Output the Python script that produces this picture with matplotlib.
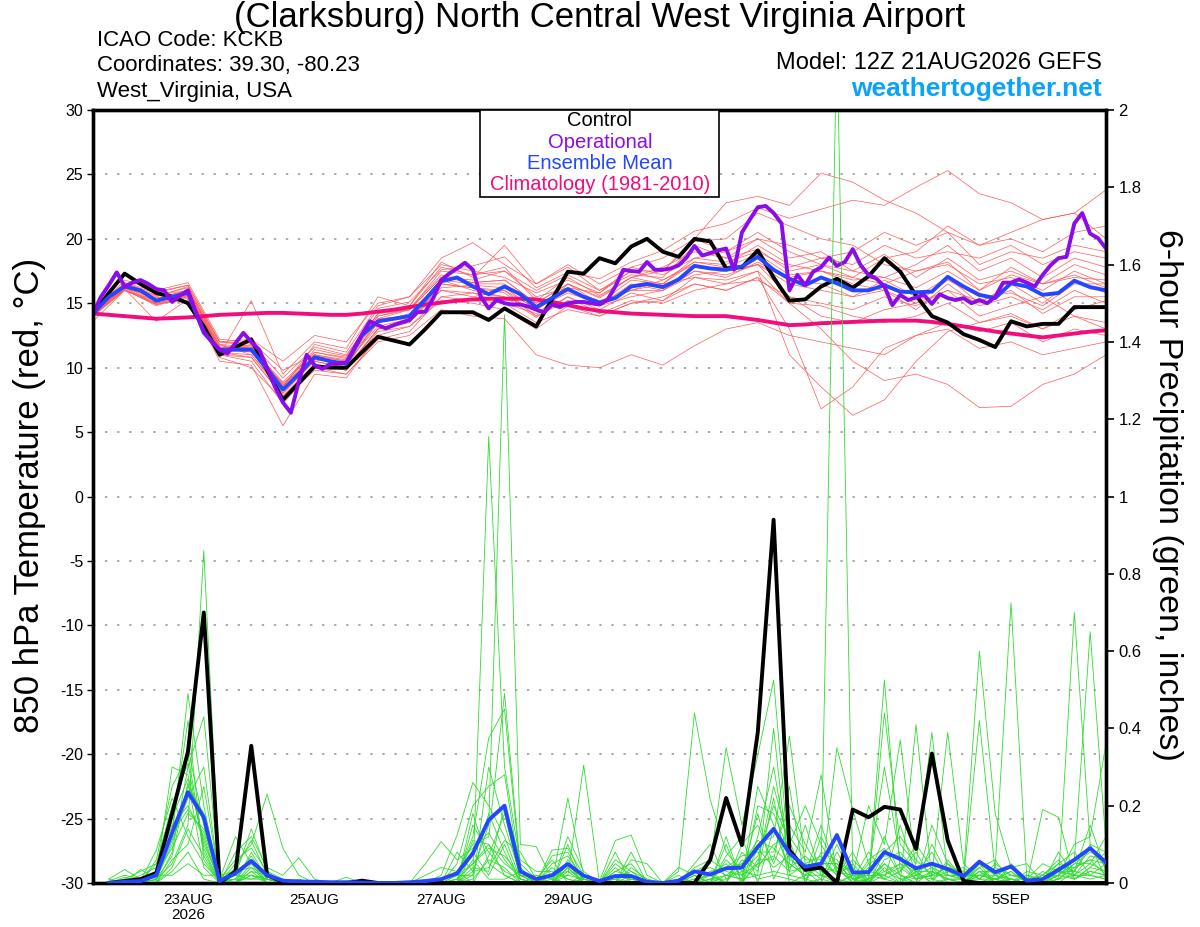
import numpy as np
import matplotlib
matplotlib.use("Agg")
import matplotlib.pyplot as plt
from matplotlib.patches import Rectangle

plt.rcParams['font.family'] = ['Liberation Sans', 'DejaVu Sans']

# ---------------- data ----------------
run_start = np.datetime64('2026-08-21T12:00')

tick_dates = ['2026-08-23', '2026-08-25', '2026-08-27', '2026-08-29',
              '2026-09-01', '2026-09-03', '2026-09-05']
tick_labels = ['23AUG\n2026', '25AUG', '27AUG', '29AUG', '1SEP', '3SEP', '5SEP']

temp_ticks = [-30, -25, -20, -15, -10, -5, 0, 5, 10, 15, 20, 25, 30]
precip_ticks = [0, 0.2, 0.4, 0.6, 0.8, 1, 1.2, 1.4, 1.6, 1.8, 2]
precip_tick_labels = ['0', '0.2', '0.4', '0.6', '0.8', '1', '1.2', '1.4', '1.6', '1.8', '2']

# 6-hourly control 850 hPa temperature (C)
control_temp = [14.2, 15.8, 17.3, 16.5, 15.8, 15.5, 15.0, 13.2, 11.0, 11.6, 12.2, 9.8, 7.5,
                8.8, 10.1, 10.0, 10.0, 11.2, 12.4, 12.1, 11.8, 13.0, 14.3, 14.3, 14.3, 13.7,
                14.6, 13.9, 13.2, 15.3, 17.45, 17.3, 18.5, 18.1, 19.4, 20.0, 19.0, 18.6, 20.0,
                19.8, 17.7, 17.8, 19.1, 17.0, 15.2, 15.3, 16.3, 16.9, 16.2, 17.1, 18.5, 17.45,
                15.6, 14.0, 13.5, 12.6, 12.15, 11.6, 13.6, 13.2, 13.4, 13.4, 14.7, 14.7, 14.7]

# 6-hourly ensemble mean temperature
mean_temp = [14.2, 15.5, 16.3, 16.0, 15.2, 15.5, 15.8, 12.7, 11.4, 11.4, 11.4, 9.9, 8.3,
             9.5, 10.8, 10.5, 10.3, 12.5, 13.6, 13.8, 14.0, 15.3, 16.7, 17.0, 16.3, 15.7,
             16.3, 15.7, 14.7, 15.4, 16.1, 15.5, 15.05, 15.4, 16.3, 16.5, 16.25, 16.85, 17.9,
             17.7, 17.6, 17.85, 18.6, 17.6, 16.9, 16.4, 17.0, 16.55, 16.0, 16.0, 16.4, 15.9,
             15.85, 15.9, 17.05, 16.3, 15.65, 15.4, 16.55, 16.3, 15.65, 15.8, 16.75, 16.25, 16.0]

# 6-hourly climatology (1981-2010)
clim_temp = [14.2, 14.1, 14.0, 13.9, 13.8, 13.85, 13.9, 14.0, 14.1, 14.15, 14.2, 14.25, 14.25,
             14.2, 14.15, 14.1, 14.1, 14.2, 14.35, 14.5, 14.7, 14.9, 15.05, 15.2, 15.3, 15.35,
             15.35, 15.35, 15.3, 15.1, 14.85, 14.6, 14.4, 14.3, 14.2, 14.15, 14.1, 14.05, 14.0,
             14.0, 14.0, 13.85, 13.7, 13.5, 13.3, 13.35, 13.45, 13.5, 13.55, 13.6, 13.65, 13.65,
             13.65, 13.55, 13.4, 13.2, 13.0, 12.8, 12.65, 12.5, 12.35, 12.5, 12.65, 12.8, 12.9]

# 3-hourly operational temperature
oper_temp = [14.2, 15.5, 16.4, 17.4, 16.3, 16.6, 16.8, 16.5, 16.1, 16.0, 15.1, 15.6, 16.0,
             14.3, 12.8, 12.0, 11.4, 11.1, 11.9, 12.7, 12.0, 11.4, 10.0, 8.5, 7.3, 6.5, 8.9,
             11.0, 10.2, 9.9, 10.3, 10.3, 10.4, 11.5, 12.6, 13.6, 13.3, 13.05, 13.3, 13.5, 13.7,
             14.3, 14.35, 15.4, 16.8, 17.3, 17.7, 18.15, 17.6, 15.5, 14.6, 15.25, 15.0, 14.9,
             14.9, 14.75, 14.5, 14.3, 14.9, 14.7, 15.0, 15.1, 15.1, 15.0, 14.9, 15.25, 16.3,
             17.6, 17.5, 17.45, 18.2, 17.6, 17.6, 17.7, 17.95, 18.55, 19.45, 18.7, 18.9, 19.1,
             19.25, 17.6, 20.5, 21.5, 22.45, 22.55, 22.0, 21.2, 16.0, 17.2, 16.4, 17.45, 17.8,
             18.55, 17.9, 18.2, 19.2, 17.95, 17.2, 16.9, 16.3, 14.85, 15.65, 15.25, 15.45, 15.65,
             14.95, 15.7, 15.4, 15.25, 15.4, 15.0, 15.25, 15.0, 15.5, 16.6, 16.6, 16.85, 16.6,
             16.3, 17.2, 17.95, 18.5, 18.6, 21.2, 22.0, 20.4, 20.05, 19.25]

# 12-hourly ensemble member temperatures
member_temp = [
    [14.2, 16.6, 15.9, 16.4, 12.0, 11.7, 8.6, 11.4, 10.9, 14.6, 15.1, 17.6, 17.9, 18.6, 16.2, 17.4, 16.9,
     18.2, 19.1, 20.6, 21.2, 22.4, 21.6, 22.3, 23.0, 22.6, 24.0, 25.3, 23.5, 22.8, 21.5, 22.0, 23.8],
    [14.0, 16.1, 14.8, 15.6, 11.2, 10.8, 7.8, 10.2, 9.8, 13.0, 13.6, 16.0, 15.8, 15.5, 13.9, 15.5, 14.5,
     15.8, 15.2, 17.0, 16.8, 17.5, 11.0, 8.5, 6.3, 7.5, 10.5, 12.8, 13.5, 14.2, 13.0, 14.5, 15.2],
    [14.3, 16.4, 15.3, 15.9, 11.0, 15.2, 9.5, 12.0, 11.5, 15.5, 14.8, 18.2, 17.0, 19.5, 16.5, 17.8, 16.0,
     17.2, 17.0, 19.5, 18.5, 20.0, 18.5, 19.0, 17.5, 18.8, 17.0, 18.5, 16.8, 17.5, 16.5, 18.0, 17.2],
    [14.1, 16.2, 14.9, 15.5, 10.5, 10.2, 5.5, 9.5, 9.2, 12.5, 13.2, 15.2, 15.0, 14.5, 13.0, 14.8, 14.0,
     15.0, 15.5, 16.5, 16.0, 17.0, 13.0, 6.8, 8.5, 11.5, 12.5, 13.5, 12.8, 13.5, 12.0, 13.0, 12.5],
    [14.2, 16.8, 16.0, 16.6, 12.2, 12.0, 9.8, 11.0, 10.5, 13.8, 14.5, 17.0, 16.8, 17.5, 15.5, 16.2, 15.8,
     17.5, 16.8, 18.2, 18.0, 19.5, 18.0, 17.5, 17.0, 16.5, 17.5, 18.2, 16.0, 17.8, 16.5, 17.0, 16.8],
    [14.5, 16.0, 15.0, 15.2, 11.8, 11.0, 8.0, 10.5, 10.0, 13.0, 13.5, 16.5, 16.2, 15.8, 14.0, 15.2, 14.8,
     15.5, 16.0, 17.2, 17.5, 18.0, 16.5, 16.0, 15.5, 16.0, 14.5, 16.5, 14.8, 15.5, 14.5, 16.0, 15.0],
    [14.2, 16.3, 15.4, 16.0, 11.6, 11.5, 8.9, 11.2, 10.8, 14.0, 14.6, 17.2, 16.6, 16.8, 15.0, 16.5, 15.5,
     17.0, 17.5, 20.0, 22.8, 23.3, 22.6, 25.1, 24.4, 23.0, 22.0, 20.5, 19.5, 20.0, 19.0, 20.5, 21.0],
    [13.6, 16.0, 15.2, 15.8, 11.0, 10.5, 7.2, 10.0, 9.5, 12.2, 12.8, 15.5, 15.8, 15.0, 14.2, 15.5, 14.2,
     15.2, 15.0, 16.0, 16.5, 16.8, 15.5, 14.0, 13.5, 14.5, 15.0, 16.0, 14.0, 14.8, 15.5, 14.0, 13.5],
    [14.3, 16.5, 15.6, 16.2, 11.8, 11.6, 8.5, 11.8, 11.2, 14.8, 15.5, 18.0, 17.5, 17.0, 15.8, 16.8, 15.8,
     17.8, 17.2, 18.5, 19.0, 20.0, 19.5, 18.5, 18.0, 19.5, 18.5, 19.0, 18.5, 19.5, 18.0, 19.0, 18.5],
    [14.1, 16.1, 13.6, 15.3, 10.8, 10.0, 7.5, 9.8, 9.5, 12.0, 12.5, 14.5, 14.0, 13.8, 11.0, 10.2, 10.0,
     11.0, 10.2, 11.7, 13.0, 13.5, 12.5, 12.0, 11.5, 11.0, 12.5, 13.0, 11.5, 12.0, 11.0, 11.5, 12.0],
    [14.4, 16.6, 15.6, 16.0, 12.0, 12.2, 10.5, 12.5, 12.0, 15.0, 15.5, 18.5, 19.7, 18.0, 16.5, 18.0, 16.5,
     17.8, 18.5, 20.0, 19.0, 20.5, 19.0, 18.0, 17.0, 18.5, 19.0, 21.0, 19.5, 20.5, 21.5, 22.0, 20.0],
    [14.2, 16.2, 15.0, 15.5, 11.2, 11.0, 8.2, 10.8, 10.2, 13.5, 14.2, 16.8, 16.0, 15.5, 14.5, 16.0, 14.8,
     16.5, 16.0, 17.5, 17.0, 18.2, 16.8, 16.5, 15.5, 16.8, 15.5, 17.0, 15.0, 16.5, 15.0, 16.8, 15.8],
    [14.0, 16.0, 15.0, 15.6, 11.5, 11.2, 8.8, 10.5, 10.0, 13.0, 13.8, 16.0, 15.5, 16.0, 14.0, 16.5, 15.0,
     16.0, 16.5, 17.0, 16.5, 17.5, 15.0, 13.0, 10.5, 9.0, 9.5, 8.7, 6.9, 7.0, 8.7, 9.5, 11.0],
    [14.3, 16.5, 15.5, 16.3, 11.4, 11.8, 8.6, 11.0, 10.6, 14.2, 14.8, 17.8, 17.2, 17.8, 15.2, 17.0, 15.6,
     17.0, 17.8, 19.0, 18.5, 19.2, 17.5, 18.0, 17.5, 17.0, 18.0, 19.5, 17.5, 18.5, 17.0, 18.5, 17.8],
    [14.1, 16.3, 15.1, 15.7, 11.3, 11.3, 8.0, 10.6, 10.4, 13.2, 13.8, 16.2, 16.4, 16.2, 14.5, 16.0, 15.2,
     16.0, 16.0, 17.5, 17.2, 18.0, 17.0, 17.5, 16.5, 16.0, 15.0, 16.8, 15.5, 15.8, 14.8, 16.5, 16.5],
    [14.2, 16.4, 15.3, 16.0, 11.7, 11.5, 8.4, 11.0, 10.0, 13.8, 14.0, 16.8, 16.5, 16.5, 14.8, 16.2, 15.0,
     16.8, 16.5, 18.5, 18.2, 19.0, 17.8, 18.5, 19.0, 20.5, 19.5, 20.5, 18.0, 19.0, 18.5, 19.5, 19.0],
    [14.2, 16.2, 15.4, 15.8, 11.5, 11.4, 8.3, 10.9, 10.5, 13.5, 13.9, 16.5, 16.2, 16.0, 14.6, 15.8, 15.0,
     16.0, 16.8, 18.0, 17.5, 18.0, 15.5, 15.0, 14.5, 15.5, 14.8, 16.0, 15.2, 16.0, 14.2, 15.5, 15.5],
    [14.4, 16.5, 15.8, 16.4, 12.0, 11.9, 9.2, 11.6, 11.0, 14.2, 14.5, 17.5, 17.2, 17.5, 16.0, 17.2, 16.0,
     17.5, 17.5, 19.8, 20.0, 22.0, 21.0, 20.0, 19.5, 18.0, 17.5, 18.0, 16.5, 17.0, 16.0, 17.5, 16.5],
    [14.0, 16.0, 14.9, 15.4, 11.0, 10.8, 7.8, 10.3, 9.8, 12.8, 13.2, 15.5, 15.2, 15.0, 13.5, 14.5, 14.0,
     15.0, 15.2, 16.5, 16.0, 17.0, 15.0, 14.8, 14.0, 13.5, 14.0, 15.0, 13.5, 14.0, 13.0, 14.0, 13.0],
    [14.3, 16.4, 15.2, 15.9, 11.4, 11.6, 8.7, 11.2, 10.7, 14.0, 14.5, 17.0, 16.6, 16.8, 15.0, 16.5, 15.4,
     17.0, 16.5, 18.2, 17.8, 18.8, 17.2, 17.5, 16.8, 17.0, 16.2, 17.5, 16.0, 17.2, 16.5, 17.2, 16.2],
]

# 6-hour precipitation (inches), valid at end of each 6-h period (steps 1..64)
control_precip = [0, 0.005, 0.01, 0.026, 0.18, 0.34, 0.70, 0.0, 0.03, 0.355, 0.02, 0.003, 0.002,
                  0.001, 0, 0, 0.006, 0, 0, 0, 0, 0, 0, 0, 0, 0, 0, 0, 0, 0, 0, 0, 0, 0, 0, 0, 0,
                  0, 0.06, 0.22, 0.098, 0.39, 0.94, 0.085, 0.034, 0.04, 0, 0.19, 0.17, 0.197, 0.19,
                  0.088, 0.335, 0.11, 0.005, 0, 0, 0, 0, 0, 0, 0, 0, 0]

mean_precip = [0, 0.003, 0.005, 0.02, 0.13, 0.235, 0.17, 0.005, 0.025, 0.057, 0.02, 0.006, 0.004,
               0.003, 0.002, 0.002, 0.001, 0, 0, 0.002, 0.005, 0.01, 0.025, 0.077, 0.163, 0.20,
               0.03, 0.01, 0.02, 0.049, 0.019, 0.005, 0.018, 0.018, 0.003, 0, 0.006, 0.03, 0.022,
               0.038, 0.04, 0.093, 0.14, 0.077, 0.042, 0.05, 0.124, 0.027, 0.028, 0.08, 0.062,
               0.038, 0.05, 0.036, 0.018, 0.055, 0.028, 0.043, 0.006, 0.01, 0.034, 0.06, 0.09, 0.053]

# member precipitation, one row per 6-h step (20 members per row)
member_precip_by_step = [
    [0.01, 0, 0, 0.005, 0, 0, 0, 0, 0.01, 0, 0, 0, 0, 0, 0, 0, 0, 0, 0, 0],
    [0.035, 0.01, 0, 0.02, 0, 0, 0, 0.005, 0, 0.015, 0, 0, 0, 0, 0, 0.01, 0, 0, 0, 0],
    [0.01, 0.03, 0, 0.01, 0.005, 0, 0.02, 0, 0.035, 0, 0, 0.01, 0, 0, 0, 0, 0.005, 0, 0, 0],
    [0.02, 0.05, 0.01, 0.03, 0.085, 0.0, 0.04, 0.02, 0.01, 0.06, 0, 0.005, 0.03, 0.0, 0.02, 0.01, 0.05, 0, 0.02, 0.01],
    [0.30, 0.12, 0.05, 0.18, 0.22, 0.08, 0.15, 0.02, 0.10, 0.25, 0.06, 0.14, 0.09, 0.03, 0.17, 0.11, 0.20, 0.04, 0.13, 0.07],
    [0.28, 0.49, 0.15, 0.35, 0.12, 0.30, 0.20, 0.05, 0.25, 0.33, 0.10, 0.42, 0.18, 0.08, 0.27, 0.22, 0.31, 0.14, 0.19, 0.26],
    [0.10, 0.20, 0.86, 0.15, 0.05, 0.43, 0.12, 0.02, 0.18, 0.09, 0.25, 0.06, 0.14, 0.01, 0.11, 0.30, 0.08, 0.07, 0.13, 0.04],
    [0.01, 0, 0.02, 0, 0.005, 0.01, 0, 0.02, 0, 0, 0.01, 0, 0.015, 0, 0, 0.005, 0, 0, 0.01, 0],
    [0.12, 0.02, 0, 0.05, 0.01, 0, 0.08, 0.03, 0, 0.01, 0.06, 0, 0.02, 0.04, 0, 0.01, 0, 0.03, 0.02, 0],
    [0.05, 0.14, 0.02, 0.10, 0.06, 0.03, 0.12, 0.04, 0.08, 0.01, 0.09, 0.05, 0.02, 0.11, 0.03, 0.07, 0.04, 0.06, 0.01, 0.02],
    [0.02, 0.03, 0, 0.23, 0.01, 0.02, 0.04, 0, 0.01, 0.02, 0.03, 0, 0.01, 0.02, 0, 0.01, 0.02, 0, 0.01, 0.01],
    [0, 0.01, 0, 0.09, 0, 0, 0.02, 0, 0, 0.005, 0, 0, 0, 0.01, 0, 0, 0, 0, 0, 0],
    [0, 0, 0, 0.02, 0, 0, 0.065, 0, 0, 0, 0, 0, 0.01, 0, 0, 0, 0, 0, 0, 0],
    [0, 0, 0, 0, 0, 0, 0.01, 0, 0, 0, 0, 0, 0, 0, 0, 0, 0, 0, 0, 0],
    [0, 0, 0, 0, 0, 0, 0, 0, 0, 0, 0, 0, 0, 0, 0, 0, 0, 0, 0, 0],
    [0, 0, 0, 0, 0, 0, 0, 0, 0, 0, 0.015, 0, 0, 0, 0, 0, 0, 0, 0, 0],
    [0, 0, 0, 0, 0, 0, 0, 0, 0.005, 0, 0, 0, 0, 0, 0, 0, 0, 0, 0, 0],
    [0, 0, 0, 0, 0, 0, 0, 0, 0, 0, 0, 0, 0, 0, 0, 0, 0, 0, 0, 0],
    [0, 0, 0, 0, 0, 0, 0, 0, 0, 0, 0, 0, 0, 0, 0, 0, 0, 0, 0, 0],
    [0, 0, 0, 0, 0, 0, 0, 0, 0, 0, 0, 0, 0, 0, 0, 0, 0, 0, 0, 0],
    [0, 0, 0, 0, 0, 0, 0, 0, 0, 0, 0, 0, 0, 0, 0, 0.05, 0, 0, 0.02, 0],
    [0, 0.02, 0, 0, 0, 0, 0.01, 0, 0, 0, 0, 0, 0, 0, 0, 0.107, 0, 0, 0.04, 0.01],
    [0.01, 0.124, 0, 0.02, 0, 0.08, 0.03, 0, 0.01, 0, 0, 0.02, 0, 0.05, 0, 0.06, 0, 0.01, 0.03, 0.02],
    [0.05, 0.26, 0.02, 0.12, 0.18, 0.03, 0.10, 0.08, 0, 0.15, 0.04, 0.02, 0.06, 0.20, 0.01, 0.09, 0.03, 0.11, 0, 0.05],
    [0.10, 0.20, 1.155, 0.375, 0.05, 0.15, 0.12, 0.02, 0.30, 0.08, 0.03, 0.18, 0.01, 0.25, 0.06, 0.13, 0.04, 0.10, 0.07, 0.09],
    [0.05, 0.12, 0.30, 0.45, 0.02, 1.47, 0.49, 0.10, 0.15, 0.03, 0.20, 0.08, 0.01, 0.28, 0.04, 0.06, 0.11, 0.02, 0.18, 0.07],
    [0.02, 0.01, 0.05, 0.03, 0, 0.10, 0.04, 0, 0.02, 0.01, 0.06, 0, 0.03, 0.02, 0, 0.01, 0.08, 0, 0.01, 0.02],
    [0, 0, 0.01, 0, 0.02, 0.094, 0, 0, 0.01, 0, 0.03, 0, 0, 0.02, 0, 0, 0.01, 0, 0, 0],
    [0, 0.05, 0, 0.02, 0, 0.01, 0.085, 0, 0.06, 0, 0.03, 0, 0.02, 0.01, 0.07, 0, 0, 0.04, 0, 0.01],
    [0.04, 0.07, 0.22, 0.02, 0.10, 0, 0.09, 0.05, 0, 0.12, 0.01, 0.06, 0.03, 0, 0.08, 0.02, 0.04, 0.01, 0.03, 0.05],
    [0, 0.01, 0.02, 0.305, 0, 0.01, 0.02, 0, 0.01, 0.03, 0, 0.01, 0, 0.02, 0, 0.01, 0, 0, 0.02, 0],
    [0, 0, 0.005, 0, 0, 0, 0, 0.005, 0, 0, 0, 0, 0, 0, 0, 0, 0, 0, 0, 0],
    [0, 0.03, 0.11, 0, 0.02, 0.06, 0, 0.01, 0.05, 0, 0.08, 0.02, 0, 0, 0.04, 0, 0.01, 0, 0, 0.03],
    [0.02, 0.05, 0.124, 0, 0.01, 0.03, 0.06, 0, 0.02, 0.08, 0, 0.01, 0, 0.04, 0, 0.02, 0.03, 0, 0.01, 0.02],
    [0, 0, 0.02, 0, 0, 0.01, 0.05, 0, 0, 0, 0, 0, 0, 0.01, 0, 0, 0, 0, 0, 0],
    [0, 0, 0, 0, 0, 0, 0, 0, 0, 0, 0, 0, 0, 0, 0, 0, 0, 0, 0, 0],
    [0, 0, 0.01, 0, 0.03, 0, 0, 0, 0.04, 0, 0, 0.02, 0, 0, 0, 0, 0.01, 0, 0, 0],
    [0, 0.02, 0.03, 0, 0.44, 0, 0.01, 0.05, 0.02, 0, 0.03, 0, 0, 0.04, 0, 0.01, 0, 0.02, 0, 0.03],
    [0.01, 0, 0.05, 0.03, 0.215, 0, 0.02, 0.10, 0, 0.01, 0.04, 0.02, 0, 0.06, 0, 0.02, 0.01, 0, 0.03, 0.02],
    [0.02, 0.06, 0.35, 0, 0.08, 0.10, 0.04, 0.01, 0.12, 0, 0.02, 0.05, 0, 0.03, 0.07, 0, 0.01, 0.02, 0.04, 0],
    [0.05, 0.02, 0.15, 0.10, 0.03, 0, 0.07, 0.04, 0, 0.08, 0.01, 0, 0.06, 0.02, 0.12, 0, 0.03, 0.01, 0.05, 0],
    [0.10, 0.05, 0.33, 0.15, 0.02, 0.20, 0.08, 0.01, 0.12, 0.04, 0.25, 0.06, 0.03, 0.18, 0, 0.09, 0.07, 0.02, 0.11, 0.05],
    [0.12, 0.25, 0.525, 0.05, 0.40, 0.18, 0.08, 0.02, 0.30, 0.10, 0.15, 0.06, 0.22, 0.01, 0.14, 0.04, 0.20, 0.03, 0.09, 0.07],
    [0.38, 0.10, 0.05, 0.15, 0.02, 0.08, 0.20, 0.01, 0.06, 0.12, 0.03, 0.25, 0, 0.09, 0.04, 0.07, 0.11, 0.02, 0.05, 0.03],
    [0.05, 0.20, 0.02, 0.08, 0.01, 0.03, 0.10, 0, 0.04, 0.06, 0.15, 0, 0.02, 0.03, 0.07, 0.01, 0, 0.05, 0.02, 0.04],
    [0.02, 0.10, 0.05, 0.28, 0, 0.04, 0.03, 0.12, 0.01, 0.06, 0.02, 0.08, 0.15, 0, 0.03, 0.05, 0.01, 0.07, 0.02, 0.04],
    [0.01, 0.03, 0.05, 0.02, 0.35, 0, 2.2, 0.04, 0.10, 0.02, 0, 0.06, 0.03, 0.08, 0.01, 0.05, 0, 0.02, 0.04, 0.03],
    [0, 0.02, 0.01, 0.05, 0.19, 0, 0.03, 0, 0.01, 0.08, 0.02, 0, 0.04, 0.01, 0, 0.03, 0.02, 0.06, 0, 0.01],
    [0.01, 0.20, 0.02, 0, 0.05, 0.03, 0, 0.01, 0.08, 0, 0.02, 0.04, 0, 0.03, 0.06, 0.01, 0, 0.02, 0.05, 0],
    [0.05, 0.10, 0.02, 0.44, 0.01, 0.30, 0.08, 0.525, 0.03, 0.06, 0.12, 0.01, 0.04, 0.02, 0.09, 0.03, 0.05, 0.01, 0.07, 0.02],
    [0.02, 0.37, 0.05, 0.10, 0, 0.06, 0.12, 0.03, 0.01, 0.08, 0.02, 0.15, 0, 0.04, 0.02, 0.05, 0.01, 0.03, 0.07, 0],
    [0, 0.03, 0.01, 0.05, 0.41, 0.02, 0.06, 0.10, 0, 0.03, 0.01, 0.02, 0.04, 0.01, 0, 0.03, 0.02, 0.08, 0.01, 0.03],
    [0.03, 0.05, 0.02, 0.39, 0.01, 0.08, 0.02, 0.04, 0.10, 0, 0.03, 0.01, 0.05, 0.02, 0.15, 0, 0.04, 0.01, 0.02, 0.03],
    [0.01, 0.03, 0.39, 0.02, 0.05, 0.01, 0.04, 0, 0.02, 0.06, 0.01, 0.03, 0, 0.02, 0.05, 0.01, 0.02, 0, 0.04, 0.01],
    [0, 0.01, 0.05, 0.02, 0, 0.01, 0.03, 0, 0.02, 0.01, 0, 0.04, 0, 0.01, 0.02, 0, 0.01, 0, 0.02, 0.01],
    [0.02, 0.05, 0.01, 0.60, 0.03, 0.42, 0.01, 0.02, 0.06, 0, 0.04, 0.01, 0.03, 0, 0.02, 0.05, 0.01, 0.03, 0.02, 0.04],
    [0.01, 0.02, 0.05, 0.18, 0, 0.03, 0.01, 0.04, 0.02, 0.01, 0.06, 0, 0.03, 0.02, 0.01, 0, 0.04, 0.01, 0.02, 0],
    [0, 0.01, 0.02, 0.04, 0.01, 0, 0.03, 0.725, 0.01, 0.02, 0, 0.05, 0.01, 0, 0.03, 0.01, 0.02, 0, 0.04, 0.01],
    [0, 0, 0.01, 0.05, 0, 0.02, 0, 0.01, 0, 0.02, 0, 0.01, 0, 0.03, 0, 0, 0.01, 0, 0, 0.01],
    [0.01, 0, 0.02, 0, 0.19, 0.01, 0.03, 0, 0.01, 0, 0.02, 0.01, 0, 0.02, 0, 0.01, 0.05, 0, 0.02, 0],
    [0.03, 0.01, 0.05, 0.02, 0.17, 0.04, 0.01, 0.08, 0.02, 0.03, 0, 0.05, 0.01, 0.06, 0.02, 0.04, 0.03, 0.01, 0.02, 0.03],
    [0.02, 0.05, 0.03, 0.10, 0.01, 0.04, 0.70, 0.02, 0.06, 0.01, 0.03, 0.08, 0.02, 0.01, 0.05, 0.03, 0.02, 0.04, 0.01, 0.03],
    [0.05, 0.08, 0.02, 0.12, 0.03, 0.06, 0.10, 0.01, 0.65, 0.04, 0.09, 0.02, 0.07, 0.03, 0.05, 0.15, 0.02, 0.06, 0.04, 0.10],
    [0.03, 0.06, 0.01, 0.36, 0.02, 0.05, 0.08, 0.02, 0.10, 0.03, 0.04, 0.01, 0.06, 0.02, 0.12, 0.03, 0.05, 0.02, 0.08, 0.01],
]

# ---------------- time axes ----------------
h = np.timedelta64(1, 'h')
t3 = run_start + np.arange(len(oper_temp)) * 3 * h
t6 = run_start + np.arange(len(control_temp)) * 6 * h
t12 = run_start + np.arange(len(member_temp[0])) * 12 * h
tp = run_start + (np.arange(len(control_precip)) + 1) * 6 * h
t_end = run_start + 384 * h

# ---------------- figure ----------------
W, H = 1200, 927
fig = plt.figure(figsize=(W / 100, H / 100), dpi=100)
L, R, T, B = 93, 1106, 110, 883
ax = fig.add_axes([L / W, 1 - B / H, (R - L) / W, (B - T) / H])
ax2 = ax.twinx()

RED = '#ff5a5a'
GREEN = '#2fdc2f'
PURPLE = '#8a0ce8'
BLUE = '#2446ff'
MAGENTA = '#f20c7e'

for m in member_temp:
    ax.plot(t12[:len(m)], m, color=RED, lw=0.5, zorder=2)
ax.plot(t6, clim_temp, color=MAGENTA, lw=2.8, zorder=3, solid_capstyle='round')
ax.plot(t6, control_temp, color='black', lw=2.8, zorder=4)
ax.plot(t6, mean_temp, color=BLUE, lw=2.8, zorder=5)
ax.plot(t3, oper_temp, color=PURPLE, lw=2.8, zorder=6)

mp = np.array(member_precip_by_step).T
for row in mp:
    ax2.plot(tp[:len(row)], row, color=GREEN, lw=0.6, zorder=2)
ax2.plot(tp, control_precip, color='black', lw=2.8, zorder=4)
ax2.plot(tp, mean_precip, color=BLUE, lw=2.8, zorder=5)

ax.set_xlim(run_start, t_end)
ax.set_ylim(-30, 30)
ax2.set_ylim(0, 2)

ax.set_yticks(temp_ticks)
ax.set_yticklabels([str(v) for v in temp_ticks])
ax2.set_yticks(precip_ticks)
ax2.set_yticklabels(precip_tick_labels)
ax.set_xticks(np.array(tick_dates, dtype='datetime64[h]'))
ax.set_xticklabels(tick_labels)

ax.tick_params(axis='y', direction='out', length=4, width=1, labelsize=11.5, pad=3)
ax2.tick_params(axis='y', direction='out', length=6, width=1.2, labelsize=12, pad=3)
ax.tick_params(axis='x', length=0, labelsize=11, pad=7)
for lab in ax.get_xticklabels():
    lab.set_linespacing(1.1)

ax.yaxis.grid(True, linestyle=(0, (1.2, 5)), color='#aaaaaa', lw=1.4)
ax.set_axisbelow(True)

for a in (ax, ax2):
    for s in a.spines.values():
        s.set_linewidth(2.4)
        s.set_color('black')

# axis titles
fig.text(30 / W, 1 - 495 / H, '850 hPa Temperature (red, \u00b0C)', rotation=90,
         ha='center', va='center', fontsize=25)
fig.text(1168 / W, 1 - 495 / H, '6-hour Precipitation (green, inches)', rotation=270,
         ha='center', va='center', fontsize=24.5)

# header texts
fig.text(0.5, 1 - 18 / H, '(Clarksburg) North Central West Virginia Airport',
         ha='center', va='center', fontsize=25)
fig.text(97 / W, 1 - 40 / H, 'ICAO Code: KCKB', ha='left', va='center', fontsize=16)
fig.text(97 / W, 1 - 66 / H, 'Coordinates: 39.30, -80.23', ha='left', va='center', fontsize=16)
fig.text(97 / W, 1 - 92 / H, 'West_Virginia, USA', ha='left', va='center', fontsize=16)
fig.text(1102 / W, 1 - 63 / H, 'Model: 12Z 21AUG2026 GEFS', ha='right', va='center', fontsize=17)
fig.text(1102 / W, 1 - 89 / H, 'weathertogether.net', ha='right', va='center', fontsize=19,
         fontweight='bold', color='#0ba3f5')

# legend box
fig.add_artist(Rectangle((480 / W, 1 - 197 / H), 239 / W, 87 / H, transform=fig.transFigure,
                         facecolor='white', edgecolor='black', lw=1.2, zorder=10))
leg_items = [('Control', 'black'), ('Operational', PURPLE),
             ('Ensemble Mean', BLUE), ('Climatology (1981-2010)', MAGENTA)]
for i, (txt, col) in enumerate(leg_items):
    fig.text(600 / W, 1 - (121 + 21.3 * i) / H, txt, ha='center', va='center',
             fontsize=14.5, color=col, zorder=11)

fig.savefig('out.png', dpi=100)
